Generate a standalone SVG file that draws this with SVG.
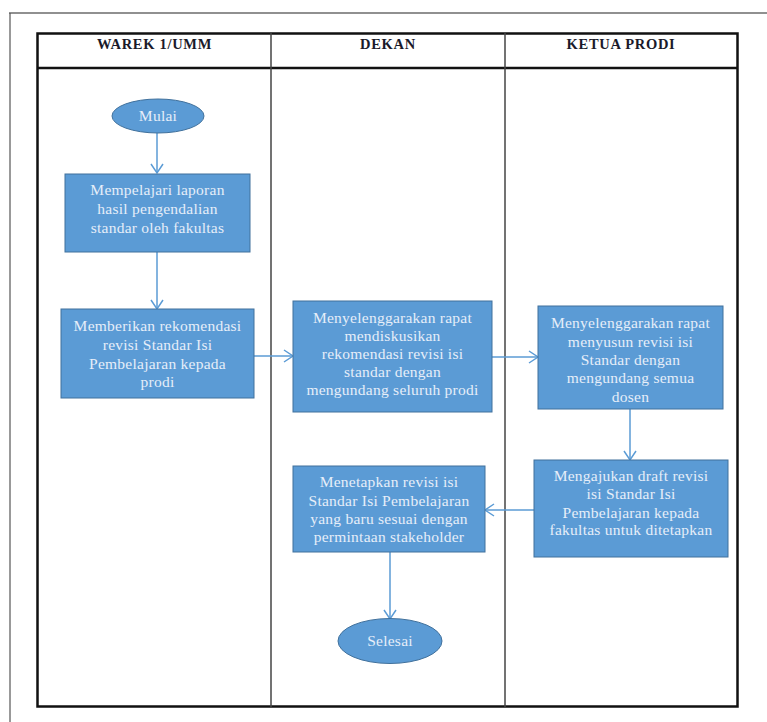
<svg xmlns="http://www.w3.org/2000/svg" width="767" height="722" viewBox="0 0 767 722">
<style>
.hdr{font-family:"Liberation Serif",serif;font-weight:bold;font-size:14.5px;letter-spacing:0.7px;fill:#1a1a2a;text-anchor:middle}
.nd{fill:#5b9bd5;stroke:#41719c;stroke-width:1}
.t{font-family:"Liberation Serif",serif;font-size:15.5px;letter-spacing:0.25px;fill:#e6eef9;text-anchor:middle}
.c{stroke:#5b9bd5;stroke-width:1.5;fill:none;marker-end:url(#ah)}
</style>
<defs>
<marker id="ah" markerWidth="14" markerHeight="14" refX="11" refY="7" orient="auto" markerUnits="userSpaceOnUse">
<path d="M2,1 L11,7 L2,13" fill="none" stroke="#5b9bd5" stroke-width="1.5"/>
</marker>
</defs>
<rect width="767" height="722" fill="#fff"/>
<g id="page">
<line x1="9" y1="13" x2="767" y2="13" stroke="#222" stroke-width="1.2"/>
<line x1="10" y1="13" x2="10" y2="722" stroke="#555" stroke-width="1.2"/>
</g>
<g id="table">
<rect x="37.5" y="33.5" width="700" height="673" fill="none" stroke="#111" stroke-width="2.5"/>
<line x1="37" y1="68" x2="738" y2="68" stroke="#111" stroke-width="2.5"/>
<line x1="271" y1="33" x2="271" y2="707" stroke="#444" stroke-width="1.5"/>
<line x1="505" y1="33" x2="505" y2="707" stroke="#444" stroke-width="1.5"/>
<text class="hdr" x="154.5" y="49">WAREK 1/UMM</text>
<text class="hdr" x="388" y="49">DEKAN</text>
<text class="hdr" x="621" y="49">KETUA PRODI</text>
</g>
<g id="connectors">
<line class="c" x1="157" y1="133" x2="157" y2="173"/>
<line class="c" x1="157" y1="252" x2="157" y2="309"/>
<line class="c" x1="254" y1="356" x2="293" y2="356"/>
<line class="c" x1="492" y1="357" x2="538" y2="357"/>
<line class="c" x1="630" y1="409" x2="630" y2="460"/>
<line class="c" x1="534" y1="510" x2="485" y2="510"/>
<line class="c" x1="390" y1="552" x2="390" y2="619"/>
</g>
<g id="mulai">
<ellipse class="nd" cx="158" cy="116" rx="46" ry="17"/>
<text class="t" x="158" y="121">Mulai</text>
</g>
<g id="mempelajari">
<rect class="nd" x="65" y="174" width="185" height="78"/>
<text class="t" x="157.5" y="195">Mempelajari laporan</text>
<text class="t" x="157.5" y="214">hasil pengendalian</text>
<text class="t" x="157.5" y="233">standar oleh fakultas</text>
</g>
<g id="memberikan">
<rect class="nd" x="61" y="309" width="193" height="89"/>
<text class="t" x="157.5" y="331">Memberikan rekomendasi</text>
<text class="t" x="157.5" y="350">revisi Standar Isi</text>
<text class="t" x="157.5" y="369">Pembelajaran kepada</text>
<text class="t" x="157.5" y="387">prodi</text>
</g>
<g id="dekan-rapat">
<rect class="nd" x="293" y="301" width="199" height="111"/>
<text class="t" x="392.5" y="323">Menyelenggarakan rapat</text>
<text class="t" x="392.5" y="341">mendiskusikan</text>
<text class="t" x="392.5" y="359">rekomendasi revisi isi</text>
<text class="t" x="392.5" y="377">standar dengan</text>
<text class="t" x="392.5" y="395">mengundang seluruh prodi</text>
</g>
<g id="prodi-rapat">
<rect class="nd" x="538" y="306" width="185" height="103"/>
<text class="t" x="630.5" y="328">Menyelenggarakan rapat</text>
<text class="t" x="630.5" y="347">menyusun revisi isi</text>
<text class="t" x="630.5" y="365">Standar dengan</text>
<text class="t" x="630.5" y="383">mengundang semua</text>
<text class="t" x="630.5" y="402">dosen</text>
</g>
<g id="mengajukan">
<rect class="nd" x="534" y="460" width="194" height="97"/>
<text class="t" x="631" y="481">Mengajukan draft revisi</text>
<text class="t" x="631" y="499">isi Standar Isi</text>
<text class="t" x="631" y="518">Pembelajaran kepada</text>
<text class="t" x="631" y="535">fakultas untuk ditetapkan</text>
</g>
<g id="menetapkan">
<rect class="nd" x="293" y="466" width="192" height="86"/>
<text class="t" x="389" y="487">Menetapkan revisi isi</text>
<text class="t" x="389" y="506">Standar Isi Pembelajaran</text>
<text class="t" x="389" y="524">yang baru sesuai dengan</text>
<text class="t" x="389" y="542">permintaan stakeholder</text>
</g>
<g id="selesai">
<ellipse class="nd" cx="390" cy="641" rx="52" ry="22.5"/>
<text class="t" x="390" y="646">Selesai</text>
</g>
</svg>
